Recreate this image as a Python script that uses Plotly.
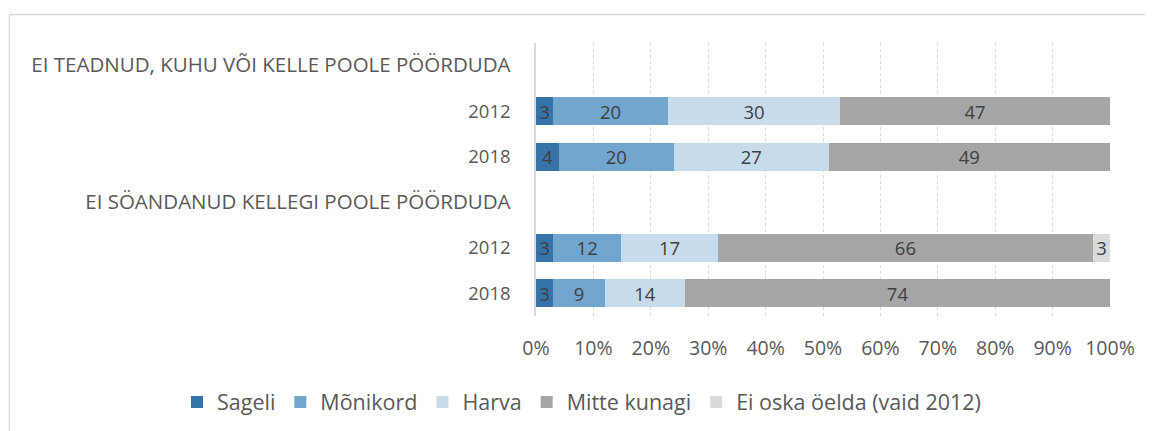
import plotly.graph_objects as go

# ---- data ----
header_labels = ["EI TEADNUD, KUHU VÕI KELLE POOLE PÖÖRDUDA",
                 "EI SÖANDANUD KELLEGI POOLE PÖÖRDUDA"]
year_labels = ["2012", "2018"]
bar_rows = [1, 2, 4, 5]  # rows that carry bars (rows 0 and 3 are group headers)
series_names = ["Sageli", "Mõnikord", "Harva", "Mitte kunagi", "Ei oska öelda (vaid 2012)"]
sageli = [3, 4, 3, 3]
monikord = [20, 20, 12, 9]
harva = [30, 27, 17, 14]
mitte_kunagi = [47, 49, 66, 74]
ei_oska = [None, None, 3, None]
series_values = [sageli, monikord, harva, mitte_kunagi, ei_oska]
colors = ["#3673A8", "#72A6CF", "#C7DBEB", "#A6A6A6", "#DADADA"]
x_ticks = [0, 10, 20, 30, 40, 50, 60, 70, 80, 90, 100]

FONT = "Open Sans"
# page body has an 8px default margin; size the figure so it ends at the window edge
W, H = 1145, 423
ML, MR, MT, MB = 528, 43, 35, 115

row_labels = []
for h in header_labels:
    row_labels.append(f"<span style='font-size:20.5px'>{h}</span>")
    row_labels.extend(year_labels)

fig = go.Figure()
for name, vals, col in zip(series_names, series_values, colors):
    fig.add_trace(go.Bar(
        y=bar_rows, x=vals, name=name, orientation="h",
        marker=dict(color=col, line=dict(width=0)),
        text=[str(v) if v else "" for v in vals],
        textposition="inside", insidetextanchor="middle",
        textangle=0, constraintext="none",
        textfont=dict(family=FONT, size=18.5, color="#404040"),
        hoverinfo="x+name",
    ))

# chart frame (left and top edges only, as in reference)
pw = W - ML - MR
ph = H - MT - MB
x_left = (1.5 - ML) / pw
x_right = (W - ML) / pw
y_top = 1 + (MT - 6.5) / ph
y_bot = 1 + (MT - H) / ph
fig.add_shape(type="line", xref="paper", yref="paper", x0=x_left, x1=x_left,
              y0=y_bot, y1=y_top, line=dict(color="#D9D9D9", width=1.5))
fig.add_shape(type="line", xref="paper", yref="paper", x0=x_left, x1=x_right,
              y0=y_top, y1=y_top, line=dict(color="#D9D9D9", width=1.5))

fig.update_layout(
    width=W, height=H,
    margin=dict(l=ML, r=MR, t=MT, b=MB, autoexpand=False),
    barmode="stack", barnorm="percent", bargap=0.38,
    plot_bgcolor="white", paper_bgcolor="white",
    font=dict(family=FONT, size=18, color="#595959"),
    showlegend=True,
    legend=dict(orientation="h", xanchor="left", x=(169 - ML) / pw,
                yanchor="middle", y=-(394 - (H - MB)) / ph,
                font=dict(family=FONT, size=21.5, color="#595959"),
                traceorder="normal", itemclick=False),
    xaxis=dict(range=[0, 100], tickvals=x_ticks,
               ticktext=[f"{t}%" for t in x_ticks],
               showgrid=True, gridcolor="#D9D9D9", griddash="dot", gridwidth=1,
               zeroline=False, showline=False, ticks="",
               ticklabelstandoff=18, automargin=False,
               tickfont=dict(family=FONT, size=19.5, color="#595959")),
    yaxis=dict(range=[5.5, -0.5], tickvals=list(range(len(row_labels))),
               ticktext=row_labels, showgrid=False, zeroline=False,
               showline=True, linecolor="#D9D9D9", linewidth=1.5,
               ticks="", ticklabelstandoff=20, automargin=False,
               tickfont=dict(family=FONT, size=18.5, color="#595959")),
)

fig.write_html("out.html")
